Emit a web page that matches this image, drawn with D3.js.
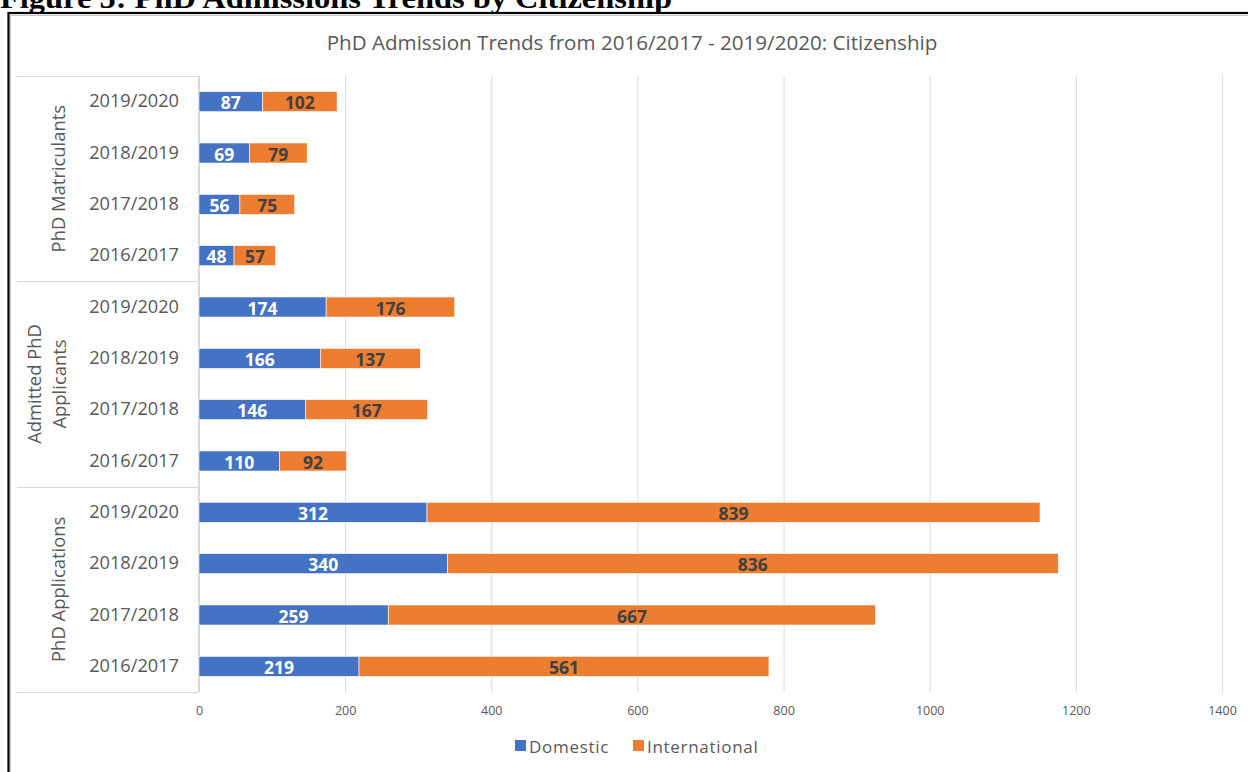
<!DOCTYPE html>
<html>
<head>
<meta charset="utf-8">
<script src="https://cdn.jsdelivr.net/npm/d3@7"></script>
<style>
  html, body { margin: 0; padding: 0; background: #fff; }
  svg { display: block; }
</style>
</head>
<body>
<svg id="chart" width="1248" height="772"></svg>
<script>
// ---- Data ----
const groups = ["PhD Matriculants", "Admitted PhD Applicants", "PhD Applications"];
const years = ["2019/2020", "2018/2019", "2017/2018", "2016/2017"];
const domestic = [
  [87, 69, 56, 48],
  [174, 166, 146, 110],
  [312, 340, 259, 219]
];
const international = [
  [102, 79, 75, 57],
  [176, 137, 167, 92],
  [839, 836, 667, 561]
];
const seriesNames = ["Domestic", "International"];
const xTicks = [0, 200, 400, 600, 800, 1000, 1200, 1400];
const figureTitle = "Figure 5: PhD Admissions Trends by Citizenship";
const chartTitle = "PhD Admission Trends from 2016/2017 - 2019/2020: Citizenship";

// ---- Build rows ----
const rows = [];
groups.forEach((g, gi) => {
  years.forEach((y, yi) => {
    rows.push({ key: gi + "|" + y, group: g, gi, year: y, dom: domestic[gi][yi], intl: international[gi][yi] });
  });
});

const colors = { Domestic: "#4472C4", International: "#ED7D31" };
const textGray = "#595959";
const gridGray = "#d9d9d9";
const font = "'Open Sans', 'Noto Sans', sans-serif";

const svg = d3.select("#chart");

// Figure caption (partially cut at top, as in the source document)
svg.append("text")
  .attr("x", 0).attr("y", 8)
  .attr("font-family", "'Liberation Serif', 'Times New Roman', serif")
  .attr("font-weight", "bold")
  .attr("font-size", 30)
  .attr("textLength", 672)
  .attr("lengthAdjust", "spacingAndGlyphs")
  .attr("fill", "#000")
  .text(figureTitle);

// Chart frame
svg.append("rect")
  .attr("x", 8.5).attr("y", 13).attr("width", 1260).attr("height", 780)
  .attr("fill", "none").attr("stroke", "#000").attr("stroke-width", 2.2);
svg.append("rect")
  .attr("x", 10.5).attr("y", 15.5).attr("width", 1260).attr("height", 780)
  .attr("fill", "none").attr("stroke", "#c8c8c8").attr("stroke-width", 1);

// Chart title
svg.append("text")
  .attr("x", 632).attr("y", 50)
  .attr("text-anchor", "middle")
  .attr("font-family", font)
  .attr("font-size", 20.6)
  .attr("fill", textGray)
  .text(chartTitle);

// Scales
const x = d3.scaleLinear().domain([0, 1400]).range([199, 1222]);
const y = d3.scaleBand().domain(rows.map(r => r.key)).range([76, 692])
  .paddingInner(0.61).paddingOuter(0.305);

// Gridlines
svg.append("g").selectAll("line").data(xTicks).join("line")
  .attr("x1", d => x(d) + 0.5).attr("x2", d => x(d) + 0.5)
  .attr("y1", 76).attr("y2", 692)
  .attr("stroke", gridGray).attr("stroke-width", 1);

// X axis labels
const xAxis = d3.axisBottom(x).tickValues(xTicks).tickSize(0).tickPadding(0).tickFormat(d3.format("d"));
const xg = svg.append("g").attr("transform", "translate(0,706)").call(xAxis);
xg.select(".domain").remove();
xg.selectAll("text")
  .attr("font-family", font).attr("font-size", 12.5).attr("fill", textGray)
  .attr("dy", "0.71em");

// Category axis: year labels
const yAxis = d3.axisLeft(y).tickSize(0).tickPadding(0).tickFormat(k => k.split("|")[1]);
const yg = svg.append("g").attr("transform", "translate(179,0)").call(yAxis);
yg.select(".domain").remove();
yg.selectAll("text")
  .attr("font-family", font).attr("font-size", 18.2).attr("fill", textGray);

// Category axis line & group separators
svg.append("line")
  .attr("x1", 198.5).attr("x2", 198.5).attr("y1", 76).attr("y2", 692)
  .attr("stroke", gridGray).attr("stroke-width", 1.2);
const sepY = groups.map((g, gi) => y(gi + "|" + years[0]) - y.paddingInner() * y.step() / 2 - (gi === 0 ? (y.paddingOuter() - y.paddingInner() / 2) * y.step() : 0));
sepY.push(692);
svg.append("g").selectAll("line").data(sepY).join("line")
  .attr("x1", 17).attr("x2", 198.5)
  .attr("y1", d => Math.round(d) + 0.5).attr("y2", d => Math.round(d) + 0.5)
  .attr("stroke", gridGray).attr("stroke-width", 1.2);

// Group labels (rotated)
groups.forEach((g, gi) => {
  const cy = (sepY[gi] + sepY[gi + 1]) / 2;
  const lines = g === "Admitted PhD Applicants" ? ["Admitted PhD", "Applicants"] : [g];
  const xs = lines.length === 2 ? [33, 58] : [57];
  lines.forEach((ln, li) => {
    svg.append("text")
      .attr("transform", `translate(${xs[li]},${cy}) rotate(-90)`)
      .attr("text-anchor", "middle")
      .attr("dominant-baseline", "central")
      .attr("font-family", font).attr("font-size", 18.4).attr("fill", textGray)
      .text(ln);
  });
});

// Bars
const barG = svg.append("g");
rows.forEach(r => {
  const segs = [
    { name: "Domestic", x0: 0, x1: r.dom, v: r.dom },
    { name: "International", x0: r.dom, x1: r.dom + r.intl, v: r.intl }
  ];
  segs.forEach(s => {
    barG.append("rect")
      .attr("x", x(s.x0)).attr("y", y(r.key))
      .attr("width", x(s.x1) - x(s.x0)).attr("height", y.bandwidth())
      .attr("fill", colors[s.name])
      .attr("stroke", "#ffffff").attr("stroke-width", 0.6);
    barG.append("text")
      .attr("x", (x(s.x0) + x(s.x1)) / 2)
      .attr("y", y(r.key) + y.bandwidth() / 2 + 0.5)
      .attr("text-anchor", "middle")
      .attr("dominant-baseline", "central")
      .attr("font-family", font).attr("font-weight", "bold").attr("font-size", 17.5)
      .attr("fill", s.name === "Domestic" ? "#ffffff" : "#404040")
      .text(s.v);
  });
});

// Legend
const legend = svg.append("g").attr("transform", "translate(515,746)");
seriesNames.forEach((n, i) => {
  const gItem = legend.append("g").attr("transform", `translate(${i === 0 ? 0 : 118},0)`);
  gItem.append("rect").attr("x", 0).attr("y", -6).attr("width", 11).attr("height", 11).attr("fill", colors[n]);
  gItem.append("text").attr("x", 14).attr("y", 0)
    .attr("dominant-baseline", "central")
    .attr("font-family", font).attr("font-size", 17).attr("letter-spacing", 0.7)
    .attr("fill", textGray).text(n);
});
</script>
</body>
</html>
